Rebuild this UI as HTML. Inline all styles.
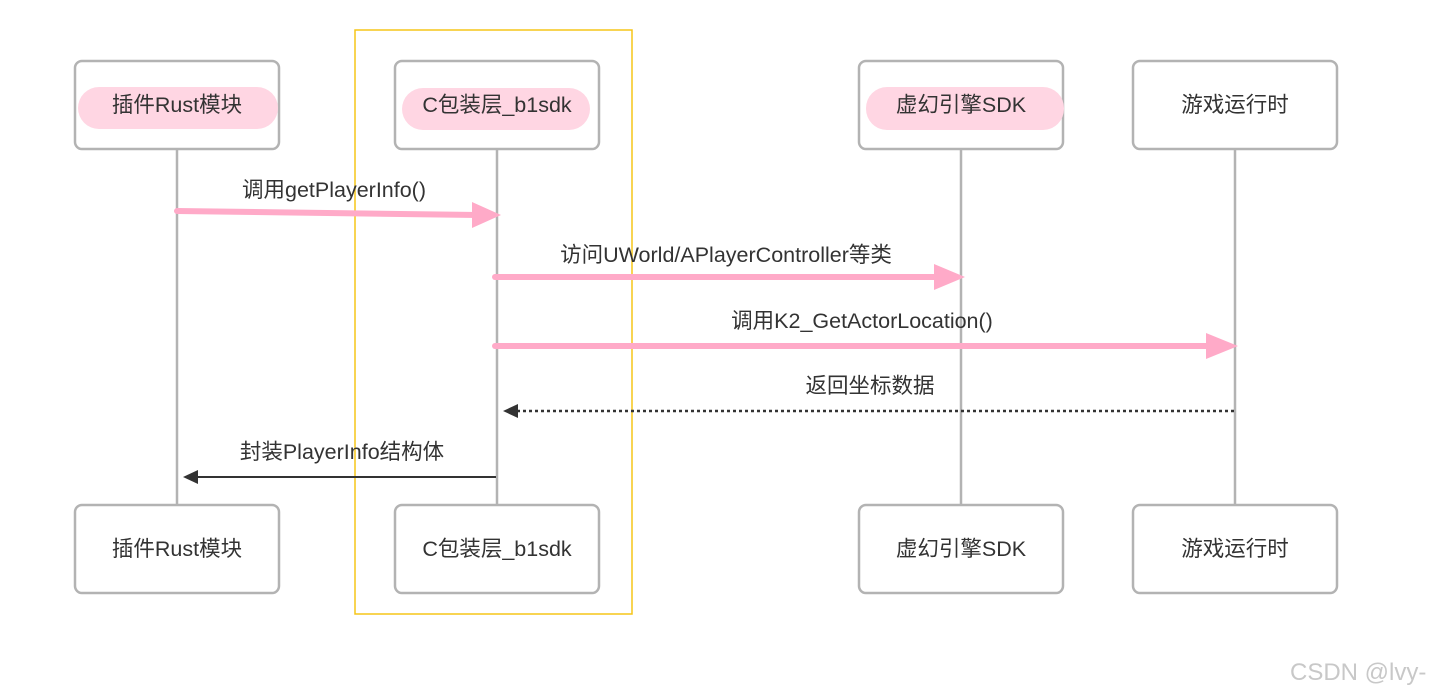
<!DOCTYPE html>
<html><head><meta charset="utf-8"><style>
html,body{margin:0;padding:0;background:#fff;}
svg{display:block;}
text{font-family:"Liberation Sans","Noto Sans CJK SC",sans-serif;font-size:21.5px;fill:#333;}
</style></head><body>
<svg width="1432" height="698" viewBox="0 0 1432 698" xmlns="http://www.w3.org/2000/svg">
<rect width="1432" height="698" fill="#fff"/>
<g stroke="#b3b3b3" stroke-width="2.5">
<line x1="177" y1="149" x2="177" y2="505"/>
<line x1="497" y1="149" x2="497" y2="505"/>
<line x1="961" y1="149" x2="961" y2="505"/>
<line x1="1235" y1="149" x2="1235" y2="505"/>
</g>
<g fill="#fff" stroke="#b3b3b3" stroke-width="2.5">
<rect x="75" y="61" width="204" height="88" rx="7"/>
<rect x="395" y="61" width="204" height="88" rx="7"/>
<rect x="859" y="61" width="204" height="88" rx="7"/>
<rect x="1133" y="61" width="204" height="88" rx="7"/>
<rect x="75" y="505" width="204" height="88" rx="7"/>
<rect x="395" y="505" width="204" height="88" rx="7"/>
<rect x="859" y="505" width="204" height="88" rx="7"/>
<rect x="1133" y="505" width="204" height="88" rx="7"/>
</g>
<g fill="#ffd6e3">
<rect x="78" y="87" width="200" height="42" rx="21"/>
<rect x="402" y="88" width="188" height="42" rx="21"/>
<rect x="866" y="87" width="198" height="43" rx="21"/>
</g>
<rect x="355" y="30" width="277" height="584" fill="none" stroke="#f5c518" stroke-width="1.5"/>
<g text-anchor="middle">
<text x="177" y="112">插件Rust模块</text>
<text x="497" y="112">C包装层_b1sdk</text>
<text x="961" y="112">虚幻引擎SDK</text>
<text x="1235" y="112">游戏运行时</text>
<text x="177" y="556">插件Rust模块</text>
<text x="497" y="556">C包装层_b1sdk</text>
<text x="961" y="556">虚幻引擎SDK</text>
<text x="1235" y="556">游戏运行时</text>
</g>
<g stroke="#ffaac8" stroke-width="6" stroke-linecap="round" fill="none">
<line x1="177" y1="211" x2="478" y2="215"/>
<line x1="495" y1="277" x2="940" y2="277"/>
<line x1="495" y1="346" x2="1212" y2="346"/>
</g>
<g fill="#ffaac8">
<polygon points="472,202 501,215 472,228"/>
<polygon points="934,264 965,277 934,290"/>
<polygon points="1206,333 1238,346 1206,359"/>
</g>
<line x1="1234" y1="411" x2="512" y2="411" stroke="#333" stroke-width="2.5" stroke-dasharray="3,3"/>
<polygon points="503,411 518,404 518,418" fill="#333"/>
<line x1="496" y1="477" x2="192" y2="477" stroke="#333" stroke-width="2"/>
<polygon points="183,477 198,470 198,484" fill="#333"/>
<g text-anchor="middle">
<text x="334" y="197">调用getPlayerInfo()</text>
<text x="726" y="262">访问UWorld/APlayerController等类</text>
<text x="862" y="328">调用K2_GetActorLocation()</text>
<text x="870" y="393">返回坐标数据</text>
<text x="342" y="459">封装PlayerInfo结构体</text>
</g>
<text x="1290" y="680" style="fill:#c8c8c8;font-size:24px">CSDN @lvy-</text>
</svg>
</body></html>
